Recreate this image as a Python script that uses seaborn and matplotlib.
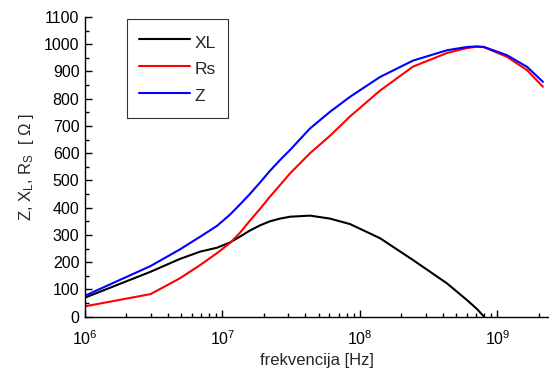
import matplotlib
matplotlib.use("Agg")
from matplotlib import pyplot as plt
import seaborn as sns
import pandas as pd
import numpy as np

# frequency points (Hz)
freq = [1.0e6, 3.0e6, 4.9e6, 6.9e6, 9.1e6, 1.13e7, 1.34e7, 1.58e7, 1.87e7,
        2.21e7, 2.62e7, 3.1e7, 4.33e7, 6.05e7, 8.46e7, 1.4e8, 2.43e8,
        4.3e8, 6.0e8, 7.1e8, 7.98e8, 1.17e9, 1.64e9, 2.14e9]

z_vals = [77, 186, 247, 294, 333, 374, 412, 450, 492, 535, 575, 612, 691,
          752, 807, 880, 940, 978, 990, 992, 990, 960, 917, 862]
rs_vals = [38, 83, 141, 190, 233, 270, 308, 352, 395, 440, 483, 526, 600,
           664, 735, 830, 918, 968, 986, 991, 989, 954, 905, 844]
xl_vals = [70, 165, 212, 239, 253, 272, 294, 316, 335, 350, 360, 367, 371,
           360, 340, 288, 208, 122, 61, 28, 0, np.nan, np.nan, np.nan]

series_names = ["XL", "Rs", "Z"]
colors = {"XL": "black", "Rs": "#ff0000", "Z": "#0000ff"}

df = pd.concat([
    pd.DataFrame({"f": freq, "val": xl_vals, "s": "XL"}),
    pd.DataFrame({"f": freq, "val": rs_vals, "s": "Rs"}),
    pd.DataFrame({"f": freq, "val": z_vals, "s": "Z"}),
]).dropna()

sns.set_theme(style="ticks")
plt.rcParams["font.family"] = ["Liberation Sans", "DejaVu Sans"]
plt.rcParams["mathtext.fontset"] = "custom"
plt.rcParams["mathtext.rm"] = "Liberation Sans"
plt.rcParams["mathtext.it"] = "Liberation Sans:italic"

fig = plt.figure(figsize=(5.49, 3.76), dpi=100)
ax = fig.add_axes([85 / 549, 1 - 316.7 / 376, 463 / 549, 299.7 / 376])

sns.lineplot(data=df, x="f", y="val", hue="s", hue_order=series_names,
             palette=colors, linewidth=1.5, ax=ax, sort=False, legend=False)

ax.set_xscale("log")
ax.set_xlim(1e6, 2.33e9)
ax.set_ylim(0, 1100)
ax.set_yticks(range(0, 1101, 100))
ax.set_yticks(range(0, 1101, 50), minor=True)

for side in ["top", "right"]:
    ax.spines[side].set_visible(False)
for side in ["left", "bottom"]:
    ax.spines[side].set_linewidth(1.0)
    ax.spines[side].set_color("black")

ax.tick_params(which="major", direction="in", length=5, width=1,
               labelsize=11.5, colors="black", pad=4)
ax.tick_params(which="minor", direction="in", length=3, width=1,
               colors="black")
ax.tick_params(axis="x", which="major", pad=9)

ax.set_xlabel("frekvencija [Hz]", fontsize=12, labelpad=4)
ax.set_ylabel(r"Z, X$_\mathregular{L}$, R$_\mathregular{S}$  [ Ω ]",
              fontsize=12, labelpad=6)

handles = [plt.Line2D([], [], color=colors[n], linewidth=1.5) for n in series_names]
leg = ax.legend(handles, series_names, loc="upper left",
                bbox_to_anchor=(42 / 463, 0.993), borderaxespad=0,
                fontsize=12.5, handlelength=2.95, handleheight=1.52,
                labelspacing=0.3, handletextpad=0.23, borderpad=0.7,
                fancybox=False, framealpha=1)
leg.get_frame().set_edgecolor("#333333")
leg.get_frame().set_linewidth(0.8)

fig.savefig("out.png", dpi=100)
